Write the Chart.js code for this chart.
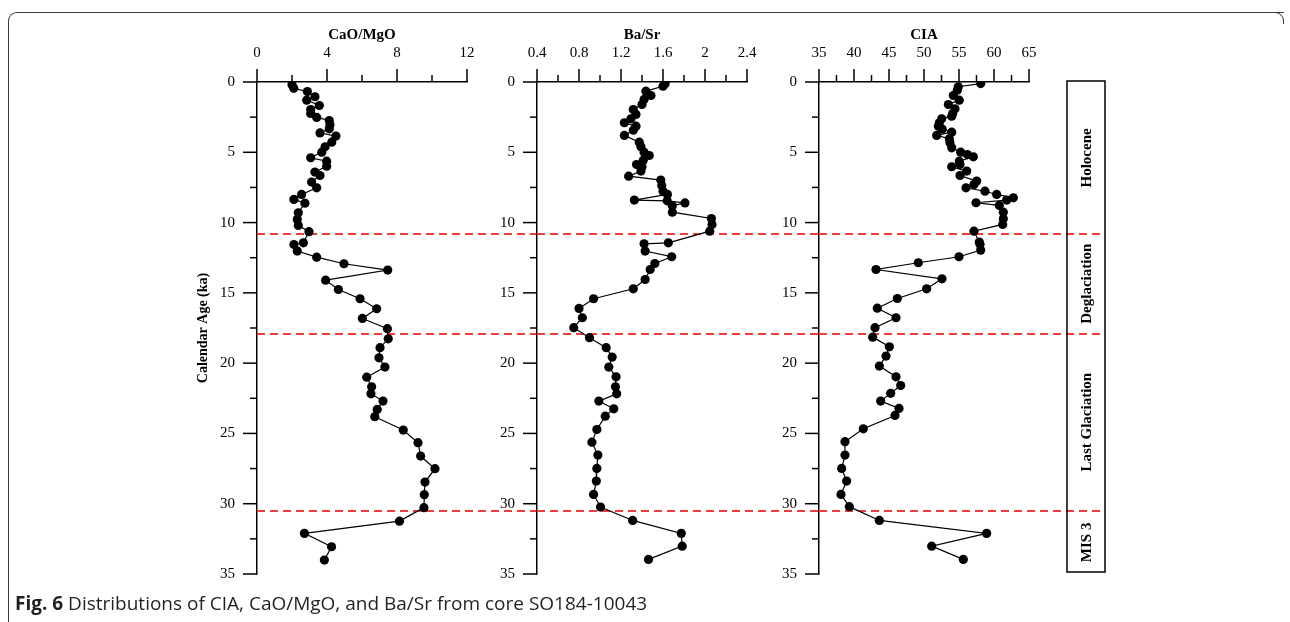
<!DOCTYPE html>
<html>
<head>
<meta charset="utf-8">
<script src="https://cdn.jsdelivr.net/npm/chart.js@4.4.1/dist/chart.umd.min.js"></script>
<style>
  html, body { margin: 0; padding: 0; background: #fff; }
  body { width: 1290px; height: 622px; position: relative; overflow: hidden; }
  .frame { position: absolute; left: 8px; top: 12px; width: 1276px; height: 630px; box-sizing: border-box;
           border-top: 1.5px solid #3a3a3a; border-left: 1.5px solid #3a3a3a; border-top-left-radius: 9px; }
  .frame-corner { position: absolute; left: 1272px; top: 12px; width: 12px; height: 12px; box-sizing: border-box;
                  border-top: 1.5px solid #3a3a3a; border-right: 1.5px solid #3a3a3a; border-top-right-radius: 9px; }
  canvas { position: absolute; top: 20px; }
  #cao { left: 187px; }
  #ba { left: 467px; }
  #cia { left: 749px; }
  .caption { position: absolute; left: 15px; top: 594px; font: 19px/19px 'Open Sans', sans-serif; color: #231f20; white-space: nowrap; }
  .caption b { font-weight: 700; }
</style>
</head>
<body>
<div class="frame"></div>
<div class="frame-corner"></div>
<canvas id="cao" width="350" height="585"></canvas>
<canvas id="ba" width="352" height="585"></canvas>
<canvas id="cia" width="371" height="585"></canvas>
<div class="caption"><b>Fig. 6</b> Distributions of CIA, CaO/MgO, and Ba/Sr from core SO184-10043</div>

<script>
// calendar age (ka) axis
const ageTicks = [0, 5, 10, 15, 20, 25, 30, 35];
const ageMinorTicks = [2.5, 7.5, 12.5, 17.5, 22.5, 27.5, 32.5];
const boundaryAges = [10.8, 17.9, 30.5];
const stageBounds = [0, 10.8, 17.9, 30.5, 35];
const stageNames = ['Holocene', 'Deglaciation', 'Last Glaciation', 'MIS 3'];

// CaO/MgO
const caoTicks = [0, 4, 8, 12];
const caoMinorTicks = [2, 6, 10];
const caoAge = [0.2, 0.45, 0.68, 1.05, 1.29, 1.67, 1.96, 2.24, 2.52, 2.74, 3.05, 3.33, 3.62, 3.85, 4.28,
    4.61, 4.99, 5.39, 5.63, 5.99, 6.41, 6.65, 7.12, 7.53, 8.0, 8.35, 8.62, 9.3, 9.78, 10.2, 10.65, 11.44,
    11.56, 12.03, 12.46, 12.93, 13.38, 14.1, 14.76, 15.42, 16.13, 16.82, 17.55, 18.27, 18.9, 19.62, 20.28,
    21.0, 21.68, 22.18, 22.7, 23.29, 23.81, 24.76, 25.66, 26.61, 27.51, 28.46, 29.36, 30.28, 31.24, 32.11,
    33.06, 34.01];
const caoValue = [2.0, 2.1, 2.88, 3.31, 2.84, 3.56, 3.07, 3.07, 3.41, 4.13, 4.17, 4.13, 3.6, 4.51, 4.27,
    3.89, 3.7, 3.07, 3.98, 3.98, 3.31, 3.6, 3.12, 3.41, 2.55, 2.11, 2.74, 2.36, 2.3, 2.36, 2.97, 2.65,
    2.11, 2.3, 3.41, 4.97, 7.47, 3.92, 4.65, 5.89, 6.84, 6.02, 7.45, 7.5, 7.03, 6.97, 7.31,
    6.27, 6.55, 6.51, 7.2, 6.87, 6.73, 8.36, 9.2, 9.35, 10.17, 9.6, 9.56, 9.54, 8.14, 2.71,
    4.26, 3.85];

// Ba/Sr
const baTicks = [0.4, 0.8, 1.2, 1.6, 2.0, 2.4];
const baTickLabels = ['0.4', '0.8', '1.2', '1.6', '2', '2.4'];
const baMinorTicks = [0.6, 1.0, 1.4, 1.8, 2.2];
const baAge = [0.12, 0.3, 0.65, 0.96, 1.24, 1.6, 1.96, 2.31, 2.62, 2.9, 3.14, 3.43, 3.8, 4.28, 4.61,
    4.99, 5.23, 5.56, 5.87, 6.03, 6.34, 6.7, 6.98, 7.36, 7.77, 8.0, 8.4, 8.45, 8.6, 8.8, 9.26, 9.71,
    10.13, 10.61, 11.44, 11.51, 12.03, 12.43, 12.91, 13.34, 14.05, 14.71, 15.42, 16.11, 16.77, 17.48,
    18.19, 18.9, 19.57, 20.28, 20.97, 21.68, 22.18, 22.7, 23.25, 23.77, 24.72, 25.62, 26.54, 27.49,
    28.39, 29.34, 30.24, 31.19, 32.11, 33.02, 33.96];
const baValue = [1.62, 1.6, 1.437, 1.485, 1.42, 1.4, 1.317, 1.343, 1.295, 1.232, 1.343, 1.317, 1.232, 1.374, 1.39,
    1.42, 1.469, 1.412, 1.348, 1.4, 1.39, 1.273, 1.579, 1.588, 1.6, 1.642, 1.327, 1.64, 1.809, 1.689, 1.689, 2.061,
    2.067, 2.045, 1.651, 1.42, 1.43, 1.683, 1.522, 1.478, 1.43, 1.317, 0.939, 0.8, 0.832, 0.75,
    0.9, 1.059, 1.116, 1.084, 1.153, 1.147, 1.159, 0.989, 1.131, 1.05, 0.97, 0.923, 0.98, 0.97,
    0.965, 0.939, 1.005, 1.311, 1.774, 1.783, 1.462];

// CIA
const ciaTicks = [35, 40, 45, 50, 55, 60, 65];
const ciaMinorTicks = [37.5, 42.5, 47.5, 52.5, 57.5, 62.5];
const ciaAge = [0.11, 0.34, 0.58, 0.96, 1.29, 1.6, 1.91, 2.24, 2.43, 2.62, 2.9, 3.14, 3.35, 3.57, 3.8,
    4.04, 4.33, 4.68, 4.99, 5.16, 5.32, 5.63, 5.87, 6.03, 6.34, 6.65, 7.05, 7.29, 7.53, 7.77, 8.0, 8.24,
    8.4, 8.59, 8.78, 9.26, 9.73, 10.13, 10.61, 11.39, 11.55, 11.96, 12.43, 12.86, 13.34, 14.0, 14.71,
    15.4, 16.09, 16.77, 17.48, 18.15, 18.84, 19.5, 20.21, 20.97, 21.59, 22.15, 22.7, 23.22, 23.72,
    24.67, 25.59, 26.54, 27.49, 28.39, 29.34, 30.21, 31.19, 32.11, 33.02, 33.96];
const ciaValue = [58.1, 54.9, 54.76, 54.19, 55.04, 53.48, 54.43, 54.1, 53.96, 52.53, 52.19, 52.05, 52.6, 53.96, 51.81,
    53.62, 53.71, 53.96, 55.24, 56.19, 57.05, 55.04, 55.14, 53.96, 56.1, 55.14, 57.53, 57.14, 56.0, 58.71, 60.38, 62.76,
    61.81, 57.43, 60.76, 61.33, 61.33, 61.24, 57.14, 57.9, 58.0, 58.1, 55.0, 49.19, 43.14, 52.57, 50.38,
    46.19, 43.33, 46.0, 43.0, 42.67, 45.05, 44.57, 43.62, 46.0, 46.67, 45.24, 43.81, 46.43, 45.86,
    41.33, 38.71, 38.71, 38.24, 38.95, 38.14, 39.33, 43.62, 58.95, 51.1, 55.62];

const serif = '"Liberation Serif", "Times New Roman", serif';
Chart.defaults.font.family = serif;
Chart.defaults.color = '#000';

const PLOT_W = 210;
const AXIS_W = 70;
const AXIS_H = 62;

const panelDecor = {
    id: 'panelDecor',
    beforeDatasetsDraw(chart, _args, opts) {
        const { ctx, chartArea, scales: { y } } = chart;
        const end = opts.box ? chartArea.right + opts.box.gap + opts.box.width : chart.width;
        ctx.save();
        ctx.strokeStyle = '#f23b3b';
        ctx.lineWidth = 2;
        ctx.setLineDash([8, 5]);
        boundaryAges.forEach((age) => {
            const py = Math.round(y.getPixelForValue(age));
            ctx.beginPath();
            ctx.moveTo(chartArea.left, py);
            ctx.lineTo(end, py);
            ctx.stroke();
        });
        ctx.restore();
    },
    afterDraw(chart, _args, opts) {
        const { ctx, chartArea, scales: { x, y } } = chart;
        ctx.save();
        ctx.strokeStyle = '#000';
        ctx.lineWidth = 1.5;
        const tick = (x1, y1, x2, y2) => {
            ctx.beginPath();
            ctx.moveTo(x1, y1);
            ctx.lineTo(x2, y2);
            ctx.stroke();
        };
        opts.xMajor.forEach((v) => { const px = x.getPixelForValue(v); tick(px, chartArea.top, px, chartArea.top - 13); });
        opts.xMinor.forEach((v) => { const px = x.getPixelForValue(v); tick(px, chartArea.top, px, chartArea.top - 7); });
        ageTicks.forEach((v) => { const py = y.getPixelForValue(v); tick(chartArea.left, py, chartArea.left - 14, py); });
        ageMinorTicks.forEach((v) => { const py = y.getPixelForValue(v); tick(chartArea.left, py, chartArea.left - 7, py); });

        if (opts.box) {
            const left = chartArea.right + opts.box.gap;
            const right = left + opts.box.width;
            const top = y.getPixelForValue(stageBounds[0]) - 1;
            const bottom = y.getPixelForValue(stageBounds[stageBounds.length - 1]) - 2;
            ctx.strokeRect(left, top, right - left, bottom - top);
            ctx.fillStyle = '#000';
            ctx.font = `bold 15px ${serif}`;
            ctx.textAlign = 'center';
            ctx.textBaseline = 'middle';
            stageNames.forEach((name, i) => {
                const cy = (y.getPixelForValue(stageBounds[i]) + y.getPixelForValue(stageBounds[i + 1])) / 2;
                ctx.save();
                ctx.translate((left + right) / 2 + 1, cy);
                ctx.rotate(-Math.PI / 2);
                ctx.fillText(name, 0, 0);
                ctx.restore();
            });
        }
        ctx.restore();
    },
};

function makePanel(id, cfg) {
    const canvas = document.getElementById(id);
    const points = cfg.age.map((a, i) => ({ x: cfg.value[i], y: a }));
    return new Chart(canvas, {
        type: 'scatter',
        data: {
            datasets: [{
                data: points,
                showLine: true,
                borderColor: '#000',
                borderWidth: 1.2,
                pointRadius: 4.6,
                pointBorderWidth: 0,
                pointBackgroundColor: '#000',
            }],
        },
        plugins: [panelDecor],
        options: {
            responsive: false,
            animation: false,
            // the y ticks' padding (22) plus half a label sets the bottom space
            layout: { padding: { left: 0, top: 0, bottom: 0, right: canvas.width - AXIS_W - PLOT_W } },
            plugins: {
                legend: { display: false },
                tooltip: { enabled: false },
                panelDecor: { xMajor: cfg.ticks, xMinor: cfg.minor, box: cfg.box },
            },
            scales: {
                x: {
                    type: 'linear',
                    position: 'top',
                    min: cfg.ticks[0],
                    max: cfg.ticks[cfg.ticks.length - 1],
                    afterBuildTicks: (scale) => { scale.ticks = cfg.ticks.map((v) => ({ value: v })); },
                    afterFit: (scale) => { scale.height = AXIS_H; },
                    ticks: {
                        padding: 20,
                        font: { size: 15 },
                        color: '#000',
                        callback: (v, i) => (cfg.labels ? cfg.labels[i] : String(v)),
                    },
                    grid: { display: false, drawTicks: false },
                    border: { display: true, color: '#000', width: 1.5 },
                    title: { display: true, text: cfg.title, font: { size: 15, weight: 'bold' }, color: '#000', padding: { top: 6 } },
                },
                y: {
                    type: 'linear',
                    reverse: true,
                    min: 0,
                    max: 35,
                    afterBuildTicks: (scale) => { scale.ticks = ageTicks.map((v) => ({ value: v })); },
                    afterFit: (scale) => { scale.width = AXIS_W; },
                    ticks: { padding: 22, font: { size: 15 }, color: '#000' },
                    grid: { display: false, drawTicks: false },
                    border: { display: true, color: '#000', width: 1.5 },
                    title: {
                        display: !!cfg.yTitle,
                        text: cfg.yTitle || '',
                        font: { size: 14, weight: 'bold' },
                        color: '#000',
                        padding: { top: 8 },
                    },
                },
            },
        },
    });
}

makePanel('cao', { age: caoAge, value: caoValue, ticks: caoTicks, minor: caoMinorTicks, title: 'CaO/MgO', yTitle: 'Calendar Age (ka)' });
makePanel('ba', { age: baAge, value: baValue, ticks: baTicks, labels: baTickLabels, minor: baMinorTicks, title: 'Ba/Sr' });
makePanel('cia', { age: ciaAge, value: ciaValue, ticks: ciaTicks, minor: ciaMinorTicks, title: 'CIA', box: { gap: 38, width: 38 } });
</script>
</body>
</html>
